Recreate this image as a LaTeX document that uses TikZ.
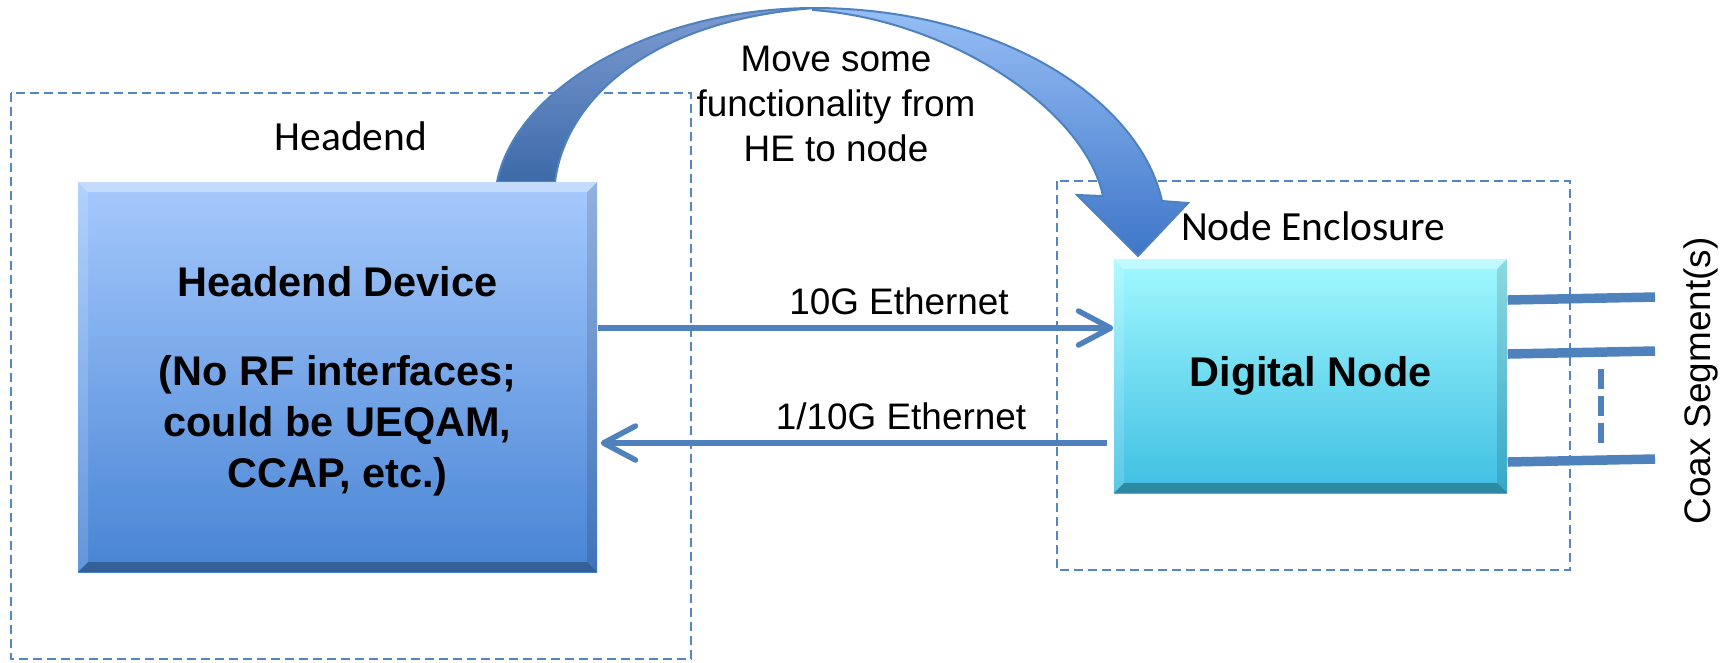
\documentclass[tikz,border=0pt]{standalone}
\usepackage{fontspec}
\setmainfont{Liberation Sans}
\newfontfamily\calfont{Carlito}
\usetikzlibrary{calc,arrows.meta,positioning}
\definecolor{officeblue}{RGB}{79,129,189}
\definecolor{frameblue}{RGB}{84,134,198}
\definecolor{hetop}{RGB}{166,202,253}
\definecolor{hebot}{RGB}{72,132,212}
\definecolor{dntop}{RGB}{162,249,255}
\definecolor{dnbot}{RGB}{62,190,226}
\definecolor{bendtop}{RGB}{150,190,245}
\definecolor{bendbot}{RGB}{62,118,200}
\definecolor{risetop}{RGB}{125,155,210}
\definecolor{risebot}{RGB}{60,106,168}
\tikzset{
  encframe/.style={draw=frameblue, line width=0.18mm, dash pattern=on 0.9mm off 0.5mm},
  link/.style={draw=officeblue, line width=0.55mm, -{Straight Barb[round,length=3.2mm,width=3.4mm]}},
  coax/.style={draw=officeblue, line width=0.95mm},
  lbl/.style={font=\fontsize{10.5}{12.4}\selectfont, inner sep=0pt},
  callbl/.style={font=\calfont\fontsize{11.8}{14}\selectfont, inner sep=0pt},
  bevelbox/.style={inner sep=0pt, align=center, font=\bfseries\fontsize{11.8}{14.5}\selectfont, path picture={
    \path (path picture bounding box.north west) coordinate (bnw)
          (path picture bounding box.south east) coordinate (bse);
    \fill[white, opacity=.35] (bnw) -- (bnw -| bse) -- ++(-1mm,-1mm) -- ($(bnw)+(1mm,-1mm)$) -- cycle;
    \fill[white, opacity=.15] (bnw) -- ($(bnw)+(1mm,-1mm)$) -- ($(bnw |- bse)+(1mm,1mm)$) -- (bnw |- bse) -- cycle;
    \fill[black, opacity=.12] (bnw -| bse) -- (bse) -- ++(-1mm,1mm) -- ($(bnw -| bse)+(-1mm,-1mm)$) -- cycle;
    \fill[black, opacity=.28] (bnw |- bse) -- (bse) -- ++(-1mm,1mm) -- ($(bnw |- bse)+(1mm,1mm)$) -- cycle;
  }},
}

\begin{document}
\begin{tikzpicture}[x=0.1mm, y=-0.1mm]
			%%%%% START %%%%%
			\useasboundingbox (0,0) rectangle (1728,662);
			
			\draw[encframe] (11,93) rectangle (691,659);
			\draw[encframe] (1057,181) rectangle (1570,570);
			
			\node[callbl, anchor=base] (helabel) at (351,150) {Headend};
			\node[callbl, anchor=base] (enclabel) at (1313,240) {Node Enclosure};
			
			% bent arrow, falling half with head
			\draw[officeblue, line width=0.2mm, top color=bendtop, bottom color=bendbot]
				(813,8) .. controls (1000,8) and (1140,100) .. (1162,201) -- (1188,203) -- (1138,256) -- (1077,195) -- (1103,196)
				.. controls (1085,110) and (950,20) .. (813,10) -- cycle;
			% bent arrow, rising half
			\draw[officeblue, line width=0.2mm, top color=risetop, bottom color=risebot]
				(497,182) .. controls (515,90) and (650,8) .. (815,8) .. controls (650,20) and (565,100) .. (555,182) -- cycle;
			
			\node[lbl, align=center, font=\fontsize{10.5}{12.9}\selectfont] (movetxt) at (836,104) {Move some\\functionality from\\HE to node};
			
			\node[bevelbox, top color=hetop, bottom color=hebot, minimum width=51.9mm, minimum height=39mm, text depth=0pt] (hedev) at (337.5,377)
				{Headend Device\\[3.8mm](No RF interfaces;\\could be UEQAM,\\CCAP, etc.)};
			\node[bevelbox, top color=dntop, bottom color=dnbot, minimum width=39.3mm, minimum height=23.4mm] (dnode) at (1310.5,376)
				{Digital Node};
			
			\coordinate (fwd) at ([yshift=4.8mm]dnode.west);
			\coordinate (rev) at ([yshift=-6.7mm]dnode.west);
			\draw[link] (fwd -| hedev.east) -- (fwd);
			\draw[link] ([xshift=-0.6mm]rev) -- ([xshift=0.3mm]rev -| hedev.east);
			\node[lbl, anchor=base] (fwdlabel) at (899,314) {10G Ethernet};
			\node[lbl, anchor=base] (revlabel) at (901,429) {1/10G Ethernet};
			
			\coordinate (seg1) at (1655,297);
			\coordinate (seg2) at (1655,351);
			\coordinate (seg3) at (1655,459);
			\draw[coax] ([yshift=-0.3mm]seg1 -| dnode.east) -- (seg1);
			\draw[coax] ([yshift=-0.3mm]seg2 -| dnode.east) -- (seg2);
			\draw[coax] ([yshift=-0.3mm]seg3 -| dnode.east) -- (seg3);
			\draw[officeblue, line width=0.6mm, dash pattern=on 2mm off 0.7mm] (1601,369) -- (1601,443);
			
			\node[lbl, rotate=90, anchor=base] (coaxlabel) at (1710,381) {Coax Segment(s)};
			
			%%%%% END %%%%%
\end{tikzpicture}
\end{document}
